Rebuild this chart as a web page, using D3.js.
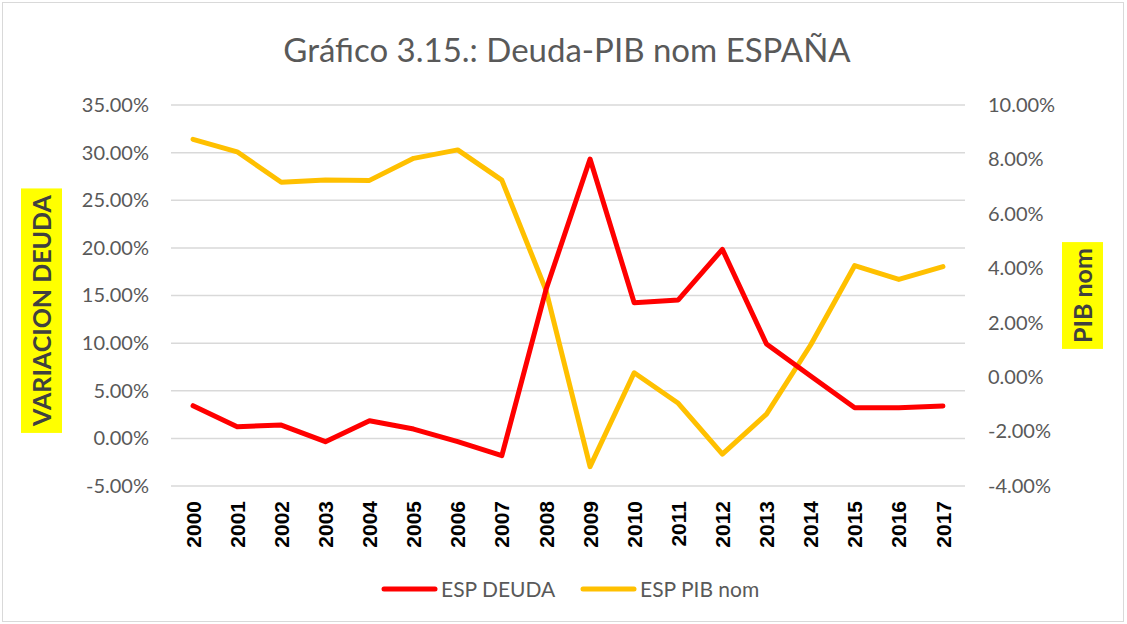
<!DOCTYPE html>
<html>
<head>
<meta charset="utf-8">
<script src="https://cdn.jsdelivr.net/npm/d3@7"></script>
<style>
  body { margin: 0; background: #fff; }
  text { font-family: Lato, Carlito, Calibri, "Liberation Sans", sans-serif; }
</style>
</head>
<body>
<svg id="chart" width="1127" height="624"></svg>
<script>
const years = ["2000","2001","2002","2003","2004","2005","2006","2007","2008",
  "2009","2010","2011","2012","2013","2014","2015","2016","2017"];
const deuda = [3.43, 1.23, 1.40, -0.35, 1.85, 0.98, -0.35, -1.82, 15.6,
  29.33, 14.25, 14.53, 19.85, 9.91, 6.55, 3.22, 3.22, 3.40];
const pibNom = [8.74, 8.28, 7.16, 7.24, 7.23, 8.04, 8.35, 7.24, 3.2,
  -3.29, 0.16, -0.96, -2.83, -1.36, 1.18, 4.1, 3.59, 4.06];
const leftTicks = [-5, 0, 5, 10, 15, 20, 25, 30, 35];
const rightTicks = [-4, -2, 0, 2, 4, 6, 8, 10];

const svg = d3.select("#chart");
const width = +svg.attr("width");
const height = +svg.attr("height");

const plot = { left: 171, right: 965, top: 105, bottom: 486 };
const gray = "#595959";

// outer frame
svg.append("rect")
  .attr("x", 2.5).attr("y", 2.5)
  .attr("width", width - 6).attr("height", height - 5)
  .attr("fill", "#fff")
  .attr("stroke", "#d9d9d9");

const x = d3.scaleBand()
  .domain(years)
  .range([plot.left, plot.right]);

const yL = d3.scaleLinear().domain([-5, 35]).range([plot.bottom, plot.top]);
const yR = d3.scaleLinear().domain([-4, 10]).range([plot.bottom, plot.top]);

// gridlines
svg.append("g")
  .selectAll("line")
  .data(leftTicks)
  .join("line")
  .attr("x1", plot.left).attr("x2", plot.right)
  .attr("y1", d => yL(d)).attr("y2", d => yL(d))
  .attr("stroke", "#d9d9d9")
  .attr("stroke-width", 1.5);

// left axis labels
const leftAxis = svg.append("g")
  .attr("transform", `translate(${plot.left}, 0)`)
  .call(d3.axisLeft(yL).tickValues(leftTicks).tickSize(0).tickPadding(22)
    .tickFormat(d => d.toFixed(2) + "%"));
leftAxis.select(".domain").remove();
leftAxis.selectAll("text")
  .attr("fill", gray)
  .style("font-size", "20px");

// right axis labels
const rightAxis = svg.append("g")
  .attr("transform", `translate(${plot.right}, 0)`)
  .call(d3.axisRight(yR).tickValues(rightTicks).tickSize(0).tickPadding(23)
    .tickFormat(d => d.toFixed(2) + "%"));
rightAxis.select(".domain").remove();
rightAxis.selectAll("text")
  .attr("fill", gray)
  .style("font-size", "20px");

// x axis labels (rotated)
const xAxis = svg.append("g")
  .attr("transform", `translate(0, ${plot.bottom})`)
  .call(d3.axisBottom(x).tickSize(0));
xAxis.select(".domain").remove();
xAxis.selectAll("text")
  .attr("transform", "rotate(-90)")
  .attr("x", -15)
  .attr("y", 0)
  .attr("dy", "0.36em")
  .style("text-anchor", "end")
  .style("font-family", "'Liberation Sans', Arial, sans-serif")
  .style("font-size", "21px")
  .style("font-weight", "bold")
  .attr("fill", "#000");

// lines
const lineL = d3.line()
  .x((d, i) => x(years[i]) + x.bandwidth() / 2)
  .y(d => yL(d));
const lineR = d3.line()
  .x((d, i) => x(years[i]) + x.bandwidth() / 2)
  .y(d => yR(d));

svg.append("path")
  .datum(pibNom)
  .attr("d", lineR)
  .attr("fill", "none")
  .attr("stroke", "#FFC000")
  .attr("stroke-width", 5)
  .attr("stroke-linejoin", "round")
  .attr("stroke-linecap", "round");

svg.append("path")
  .datum(deuda)
  .attr("d", lineL)
  .attr("fill", "none")
  .attr("stroke", "#FF0000")
  .attr("stroke-width", 5)
  .attr("stroke-linejoin", "round")
  .attr("stroke-linecap", "round");

// title
svg.append("text")
  .attr("x", 567)
  .attr("y", 62)
  .attr("text-anchor", "middle")
  .attr("fill", gray)
  .style("font-size", "33px")
  .text("Gráfico 3.15.: Deuda-PIB nom ESPAÑA");

// axis titles with yellow background
function axisTitle(cx, cy, label) {
  const g = svg.append("g").attr("transform", `translate(${cx}, ${cy}) rotate(-90)`);
  const t = g.append("text")
    .attr("text-anchor", "middle")
    .attr("dy", "0.36em")
    .attr("fill", "#404040")
    .style("font-size", "25px")
    .style("font-weight", "bold")
    .text(label);
  const bb = t.node().getBBox();
  g.insert("rect", "text")
    .attr("x", bb.x - 6).attr("y", -20.5)
    .attr("width", bb.width + 12).attr("height", 41)
    .attr("fill", "#FFFF00");
}
axisTitle(41.5, 310.5, "VARIACION DEUDA");
axisTitle(1082.5, 295.5, "PIB nom");

// legend
const legend = [
  { name: "ESP DEUDA", color: "#FF0000", x: 384 },
  { name: "ESP PIB nom", color: "#FFC000", x: 583 }
];
const lg = svg.append("g").selectAll("g").data(legend).join("g")
  .attr("transform", d => `translate(${d.x}, 589)`);
lg.append("line")
  .attr("x1", 0).attr("x2", 51)
  .attr("stroke", d => d.color)
  .attr("stroke-width", 5)
  .attr("stroke-linecap", "round");
lg.append("text")
  .attr("x", 57)
  .attr("dy", "0.36em")
  .attr("fill", gray)
  .style("font-size", "21px")
  .text(d => d.name);
</script>
</body>
</html>
